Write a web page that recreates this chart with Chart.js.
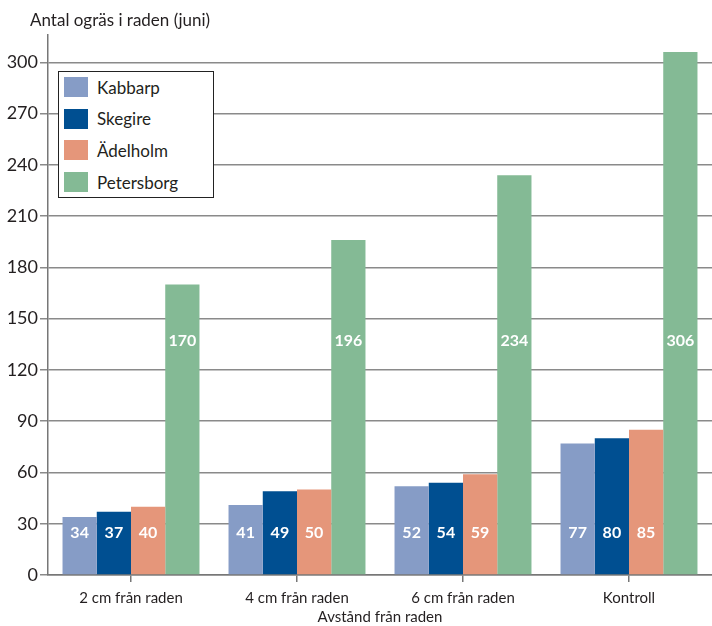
<!DOCTYPE html>
<html>
<head>
<meta charset="utf-8">
<script src="https://cdn.jsdelivr.net/npm/chart.js@4"></script>
<style>
  html, body { margin: 0; padding: 0; background: #fff; }
  #wrap { position: relative; width: 712px; height: 626px; }
  #legend {
    position: absolute; left: 58px; top: 71px; width: 154px; height: 125px;
    border: 1px solid #222; background: #fff;
    font-family: Lato, "DejaVu Sans Condensed", sans-serif;
    font-size: 17px; color: #231f20;
  }
  #legend .item { position: absolute; left: 5px; height: 20px; display: flex; align-items: center; }
  #legend .sw { width: 24px; height: 20px; margin-right: 9px; }
</style>
</head>
<body>
<div id="wrap">
  <canvas id="chart" width="712" height="626"></canvas>
  <div id="legend"></div>
</div>
<script>
// data
const categories = ["2 cm från raden", "4 cm från raden", "6 cm från raden", "Kontroll"];
const kabbarp = [34, 41, 52, 77];
const skegire = [37, 49, 54, 80];
const adelholm = [40, 50, 59, 85];
const petersborg = [170, 196, 234, 306];
const seriesNames = ["Kabbarp", "Skegire", "Ädelholm", "Petersborg"];
const yTicks = [0, 30, 60, 90, 120, 150, 180, 210, 240, 270, 300];

const colors = ["#869cc6", "#004f91", "#e5967a", "#84ba95"];
const fontFam = 'Lato, "DejaVu Sans Condensed", sans-serif';

const titlePlugin = {
  id: "topTitle",
  afterDraw(chart) {
    const ctx = chart.ctx;
    ctx.save();
    ctx.font = "17px " + fontFam;
    ctx.fillStyle = "#231f20";
    ctx.textBaseline = "alphabetic";
    ctx.fillText("Antal ogräs i raden (juni)", 30, 26);
    ctx.restore();
  }
};

// white value labels inside the bars
const valueLabels = {
  id: "valueLabels",
  afterDatasetsDraw(chart) {
    const ctx = chart.ctx;
    const y = chart.scales.y;
    ctx.save();
    ctx.font = "bold 16px " + fontFam;
    ctx.fillStyle = "#fff";
    ctx.textAlign = "center";
    ctx.textBaseline = "middle";
    chart.data.datasets.forEach((ds, i) => {
      const meta = chart.getDatasetMeta(i);
      const ly = y.getPixelForValue(i === 3 ? 137 : 24.5);
      meta.data.forEach((bar, j) => {
        ctx.fillText(String(ds.data[j]), bar.x, ly);
      });
    });
    ctx.restore();
  }
};

const chart = new Chart(document.getElementById("chart"), {
  type: "bar",
  data: {
    labels: categories,
    datasets: [kabbarp, skegire, adelholm, petersborg].map((d, i) => ({
      label: seriesNames[i],
      data: d,
      backgroundColor: colors[i],
      borderWidth: 0,
      barPercentage: 1,
      categoryPercentage: 0.825
    }))
  },
  options: {
    responsive: false,
    animation: false,
    layout: { padding: { top: 35, right: 0, left: 0, bottom: 0 } },
    plugins: { legend: { display: false }, tooltip: { enabled: false } },
    scales: {
      x: {
        grid: { display: true, drawOnChartArea: false, drawTicks: true, tickLength: 7, offset: false, color: "#777", lineWidth: 1.5 },
        border: { color: "#777", width: 1.5 },
        ticks: { color: "#231f20", font: { family: fontFam, size: 15 }, padding: 7 },
        title: { display: true, text: "Avstånd från raden", color: "#231f20", font: { family: fontFam, size: 15 }, padding: { top: 2, bottom: 0 } },
        afterFit(s) { s.height = 51; }
      },
      y: {
        min: 0,
        max: 316,
        afterBuildTicks(s) { s.ticks = yTicks.map(v => ({ value: v })); },
        grid: { color: "#8a8a8a", lineWidth: 1.5, tickLength: 8 },
        border: { color: "#777", width: 1.5 },
        ticks: { color: "#231f20", font: { family: fontFam, size: 18 }, padding: 2 },
        afterFit(s) { s.width = 48; }
      }
    }
  },
  plugins: [titlePlugin, valueLabels]
});

// legend box built from the datasets
const legend = document.getElementById("legend");
chart.data.datasets.forEach((ds, i) => {
  const item = document.createElement("div");
  item.className = "item";
  item.style.top = (5 + i * 31.7) + "px";
  item.innerHTML = '<span class="sw" style="background:' + ds.backgroundColor + '"></span><span>' + ds.label + '</span>';
  legend.appendChild(item);
});
</script>
</body>
</html>
